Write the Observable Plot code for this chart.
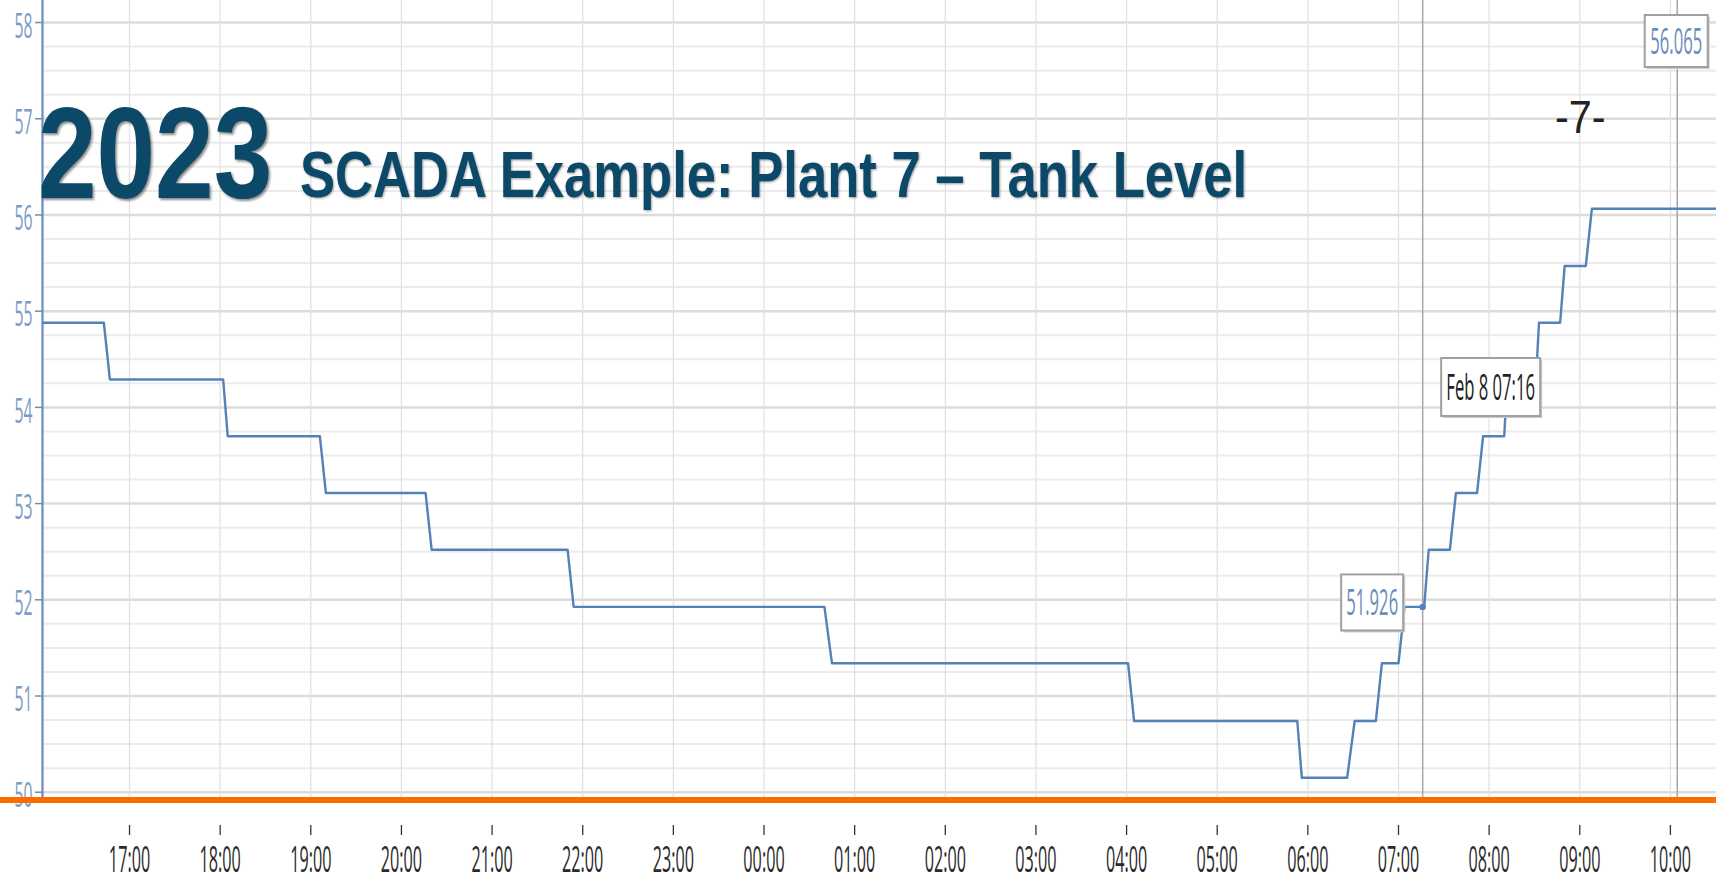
<!DOCTYPE html>
<html><head><meta charset="utf-8">
<script src="https://cdn.jsdelivr.net/npm/d3@7"></script>
<script src="https://cdn.jsdelivr.net/npm/@observablehq/plot@0.6"></script>
<style>
html,body{margin:0;padding:0;background:#fff;overflow:hidden}
#chart{position:relative;width:1716px;height:880px}
</style></head><body><div id="chart"></div>
<script>
// ---- data ----
const times = [
  "2023-02-07T16:00","2023-02-07T16:43","2023-02-07T16:47","2023-02-07T18:02","2023-02-07T18:05",
  "2023-02-07T19:06","2023-02-07T19:10","2023-02-07T20:16","2023-02-07T20:20","2023-02-07T21:50",
  "2023-02-07T21:54","2023-02-08T00:40","2023-02-08T00:45","2023-02-08T04:01","2023-02-08T04:05",
  "2023-02-08T05:53","2023-02-08T05:56","2023-02-08T06:26","2023-02-08T06:31","2023-02-08T06:45",
  "2023-02-08T06:49","2023-02-08T07:00","2023-02-08T07:04","2023-02-08T07:17","2023-02-08T07:20",
  "2023-02-08T07:34","2023-02-08T07:38","2023-02-08T07:52","2023-02-08T07:56","2023-02-08T08:10",
  "2023-02-08T08:12","2023-02-08T08:31","2023-02-08T08:33","2023-02-08T08:47","2023-02-08T08:50",
  "2023-02-08T09:04","2023-02-08T09:08","2023-02-08T10:31"
];
const levels = [
  54.88,54.88,54.29,54.29,53.70,
  53.70,53.11,53.11,52.52,52.52,
  51.926,51.926,51.34,51.34,50.74,
  50.74,50.15,50.15,50.74,50.74,
  51.34,51.34,51.926,51.926,52.52,
  52.52,53.11,53.11,53.70,53.70,
  54.29,54.29,54.88,54.88,55.47,
  55.47,56.065,56.065
];
const cursorTimes = ["2023-02-08T07:16:00","2023-02-08T10:04:30"];
const cursorValue = 51.926;
const lastValue = 56.065;
const cursorLabel = "Feb 8 07:16";
const xDomainStr = ["2023-02-07T16:02:24","2023-02-08T10:30:30"];
const yDomain = [49.914, 58.229];
const yTicks = [50,51,52,53,54,55,56,57,58];
const titleYear = "2023";
const titleText = "SCADA Example: Plant 7 \u2013 Tank Level";
const pageMark = "-7-";

// ---- build ----
const data = times.map((t, i) => ({t: new Date(t), v: levels[i]}));
const xDomain = xDomainStr.map(s => new Date(s));
const cursorDates = cursorTimes.map(s => new Date(s));
const hourTicks = d3.timeHour.range(xDomain[0], xDomain[1]);
const minorY = d3.range(50, 58.01, 0.25).filter(v => v % 1 !== 0);
const chartFont = "'Open Sans', 'Noto Sans', sans-serif";
const lineColor = "#5382b8";

const svgEl = Plot.plot({
  width: 1716, height: 880,
  marginLeft: 42, marginRight: 0, marginTop: 0, marginBottom: 80,
  x: {type: "time", domain: xDomain, label: null},
  y: {domain: yDomain, label: null},
  style: {fontFamily: chartFont, background: "#fff", overflow: "visible"},
  marks: [
    Plot.ruleY(minorY, {stroke: "#ebebeb", strokeWidth: 2}),
    Plot.ruleY(yTicks, {stroke: "#dcdcdc", strokeWidth: 2.5}),
    Plot.ruleX(hourTicks, {stroke: "#e2e2e2", strokeWidth: 1.3}),
    Plot.ruleX(cursorDates, {stroke: "#a6a6a6", strokeWidth: 1.5}),
    Plot.ruleX([xDomain[0]], {stroke: "#6b8cba", strokeWidth: 2.2}),
    Plot.axisY({ticks: yTicks, tickSize: 7, stroke: "#6b8cba", strokeWidth: 1.5, fill: "none", label: null}),
    Plot.axisY({ticks: yTicks, tickSize: 0, tickPadding: 10, dy: 4, fill: "#7d9bc3", fontSize: 35, label: null}),
    Plot.axisX({ticks: hourTicks, tickFormat: d3.timeFormat("%H:%M"), tickSize: 10, tickPadding: 11, dy: 25,
      stroke: "#333", strokeWidth: 1.3, fill: "#2a2a2a", fontSize: 36, label: null}),
    Plot.line(data, {x: "t", y: "v", stroke: lineColor, strokeWidth: 2.4, clip: true}),
    Plot.dot([{t: cursorDates[0], v: cursorValue}], {x: "t", y: "v", r: 3.2, fill: lineColor})
  ]
});

// condense the chart's own texts like the reference
svgEl.querySelectorAll("text").forEach(t => {
  const tr = t.getAttribute("transform") || "";
  t.setAttribute("transform", tr + " scale(0.45,1)");
});

document.getElementById("chart").appendChild(svgEl);
const svg = d3.select(svgEl);
const xs = svgEl.scale("x"), ys = svgEl.scale("y");

// orange bar at the plot bottom
const yb = ys.apply(yDomain[0]);
svg.append("rect").attr("x", 0).attr("y", yb - 3).attr("width", 1716).attr("height", 6).attr("fill", "#ff6a00");

function box(x, y, w, h, label, color) {
  const g = svg.append("g");
  g.append("rect").attr("x", x + 2).attr("y", y + 2).attr("width", w).attr("height", h).attr("fill", "#cccccc");
  g.append("rect").attr("x", x).attr("y", y).attr("width", w).attr("height", h)
    .attr("fill", "#fff").attr("stroke", "#a0a0a0").attr("stroke-width", 2);
  g.append("text").attr("transform", `translate(${x + w / 2},${y + h / 2 + 13}) scale(0.45,1)`)
    .attr("text-anchor", "middle").attr("font-family", chartFont).attr("font-size", 37)
    .attr("fill", color).text(label);
}
const cx = xs.apply(cursorDates[0]);
const cx2 = xs.apply(cursorDates[1]);
box(cx - 19 - 62, ys.apply(cursorValue) - 4 - 28, 62, 56, String(cursorValue), "#6a8dbb");
box(cx + 19, 358, 99, 58, cursorLabel, "#222");
box(cx2 - 32, 15, 63, 52, String(lastValue), "#6a8dbb");

// overlaid slide title
const titleFont = "'Liberation Sans', Arial, sans-serif";
svg.append("text").attr("transform", "translate(38,198) scale(0.81,1)").attr("text-anchor", "start")
  .attr("font-family", titleFont).attr("font-weight", "bold").attr("font-size", 130)
  .attr("fill", "#0c4868").style("filter", "drop-shadow(2px 2px 1px rgba(0,0,0,0.45))").text(titleYear);
svg.append("text").attr("transform", "translate(300,197) scale(0.822,1)").attr("text-anchor", "start")
  .attr("font-family", titleFont).attr("font-weight", "bold").attr("font-size", 64)
  .attr("fill", "#0c4868").style("filter", "drop-shadow(1.5px 1.5px 1px rgba(0,0,0,0.4))").text(titleText);
svg.append("text").attr("transform", "translate(1555,133) scale(0.9,1)").attr("text-anchor", "start")
  .attr("font-family", titleFont).attr("font-size", 46).attr("fill", "#222").text(pageMark);
</script>
</body></html>
